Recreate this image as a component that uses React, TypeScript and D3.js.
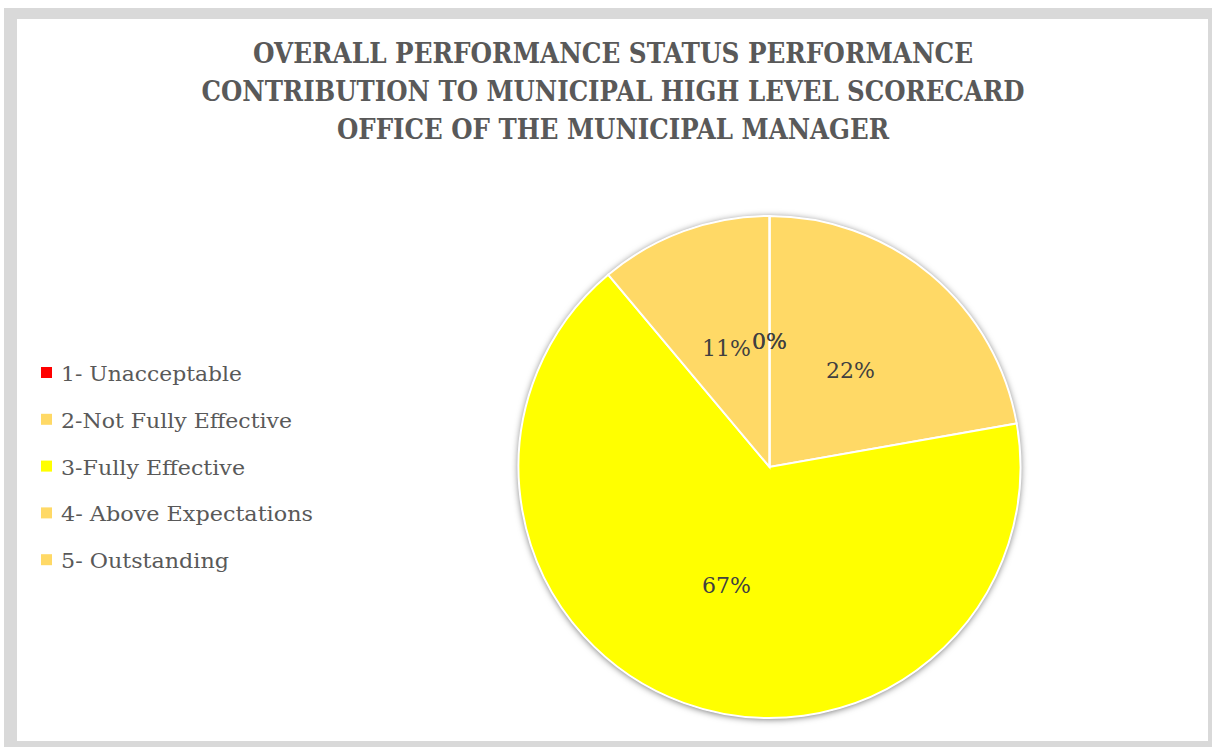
import React from "react";
import * as d3 from "d3";

const categories = [
  "1- Unacceptable",
  "2-Not Fully Effective",
  "3-Fully Effective",
  "4- Above Expectations",
  "5- Outstanding",
];
const values = [0, 2, 6, 1, 0];
const colors = ["#FF0000", "#FFD966", "#FFFF00", "#FFD966", "#FFD966"];
const titleLines = [
  "OVERALL PERFORMANCE STATUS PERFORMANCE",
  "CONTRIBUTION TO MUNICIPAL HIGH LEVEL SCORECARD",
  "OFFICE OF THE MUNICIPAL MANAGER",
];
const titleWidths = [720, 823, 552];
const legendWidths = [181, 231, 184, 252, 168];

export default function App() {
  const W = 1212, H = 747;
  const cx = 769.5, cy = 467, r = 251;
  const total = d3.sum(values);
  const pie = d3.pie<number>().sort(null).value((d) => d).startAngle(0).endAngle(2 * Math.PI);
  const arcs = pie(values);
  const arc = d3.arc<d3.PieArcDatum<number>>().innerRadius(0).outerRadius(r);
  const labelArc = d3.arc<d3.PieArcDatum<number>>().innerRadius(126).outerRadius(126);
  const fmt = d3.format(".0%");
  const font = "'DejaVu Serif', Cambria, serif";
  return (
    <svg width={W} height={H} style={{ position: "absolute", left: 0, top: 0 }}>
      <defs>
        <filter id="sh" x="-10%" y="-10%" width="120%" height="120%">
          <feDropShadow dx="0" dy="1" stdDeviation="3.5" floodColor="#000" floodOpacity="0.6" />
        </filter>
      </defs>
      <rect x={4} y={8} width={1208} height={739} fill="#D9D9D9" />
      <rect x={17} y={19} width={1191} height={722} fill="#FFFFFF" />
      {titleLines.map((t, i) => (
        <text
          key={i}
          x={613}
          y={63 + i * 38}
          textAnchor="middle"
          fontFamily={font}
          fontWeight="bold"
          fontSize={27}
          fill="#595959"
          textLength={titleWidths[i]}
          lengthAdjust="spacingAndGlyphs"
        >
          {t}
        </text>
      ))}
      <g transform={`translate(${cx},${cy})`}>
        <circle r={r} fill="#fff" filter="url(#sh)" />
        {arcs.map((a, i) => (
          <path key={i} d={arc(a) || ""} fill={colors[i]} stroke="#FFFFFF" strokeWidth={2} />
        ))}
        {arcs.map((a, i) => {
          const [x, y] = labelArc.centroid(a);
          return (
            <text
              key={"l" + i}
              x={x}
              y={y}
              dy="0.35em"
              textAnchor="middle"
              fontFamily={font}
              fontSize={22}
              fill="#404040"
            >
              {fmt(values[i] / total)}
            </text>
          );
        })}
      </g>
      {categories.map((c, i) => (
        <g key={c} transform={`translate(41,${373 + i * 46.8})`}>
          <rect x={0} y={-6} width={11} height={11} fill={colors[i]} />
          <text
            x={20}
            y={8}
            fontFamily={font}
            fontSize={21}
            fill="#595959"
            textLength={legendWidths[i]}
            lengthAdjust="spacingAndGlyphs"
          >
            {c}
          </text>
        </g>
      ))}
    </svg>
  );
}
